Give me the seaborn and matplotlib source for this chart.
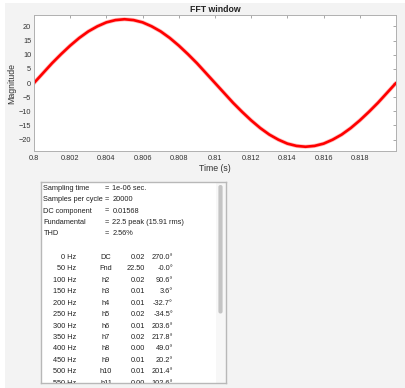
import numpy as np
import pandas as pd
import matplotlib
matplotlib.use("Agg")
from matplotlib import pyplot as plt
from matplotlib.patches import Rectangle, FancyBboxPatch
from matplotlib.ticker import FuncFormatter
import seaborn as sns

sns.set_style("white")
plt.rcParams['font.family'] = ['Liberation Sans', 'DejaVu Sans']

# waveform (one 50 Hz cycle, 0.5 ms spacing)
time_s = [0.8000, 0.8005, 0.8010, 0.8015, 0.8020, 0.8025, 0.8030, 0.8035,
          0.8040, 0.8045, 0.8050, 0.8055, 0.8060, 0.8065, 0.8070, 0.8075,
          0.8080, 0.8085, 0.8090, 0.8095, 0.8100, 0.8105, 0.8110, 0.8115,
          0.8120, 0.8125, 0.8130, 0.8135, 0.8140, 0.8145, 0.8150, 0.8155,
          0.8160, 0.8165, 0.8170, 0.8175, 0.8180, 0.8185, 0.8190, 0.8195,
          0.8200]
magnitude = [0.0, 3.5, 7.0, 10.2, 13.2, 15.9, 18.2, 20.0, 21.4, 22.2,
             22.5, 22.2, 21.4, 20.0, 18.2, 15.9, 13.2, 10.2, 7.0, 3.5,
             0.0, -3.5, -7.0, -10.2, -13.2, -15.9, -18.2, -20.0, -21.4, -22.2,
             -22.5, -22.2, -21.4, -20.0, -18.2, -15.9, -13.2, -10.2, -7.0, -3.5,
             0.0]
xticks = [0.8, 0.802, 0.804, 0.806, 0.808, 0.81, 0.812, 0.814, 0.816, 0.818]
yticks = [-20, -15, -10, -5, 0, 5, 10, 15, 20]

# summary text
info_names = ["Sampling time", "Samples per cycle", "DC component", "Fundamental", "THD"]
info_values = ["1e-06 sec.", "20000", "0.01568", "22.5 peak (15.91 rms)", "2.56%"]

# harmonics table
freqs = ["0 Hz", "50 Hz", "100 Hz", "150 Hz", "200 Hz", "250 Hz", "300 Hz",
         "350 Hz", "400 Hz", "450 Hz", "500 Hz", "550 Hz"]
harm = ["DC", "Fnd", "h2", "h3", "h4", "h5", "h6", "h7", "h8", "h9", "h10", "h11"]
amps = [0.02, 22.50, 0.02, 0.01, 0.01, 0.02, 0.01, 0.02, 0.00, 0.01, 0.01, 0.00]
phases = [270.0, -0.0, 90.6, 3.6, -32.7, -34.5, 203.6, 217.8, 49.0, 20.2, 201.4, 102.6]

df = pd.DataFrame({"Time (s)": time_s, "Magnitude": magnitude})

W, H = 406, 388
fig = plt.figure(figsize=(W / 100, H / 100), dpi=100, facecolor="white")
fig.patches.append(Rectangle((5 / W, 0), 1, 1 - 3 / H, transform=fig.transFigure,
                             facecolor="#f3f3f3", edgecolor="none", zorder=-10))

ax = fig.add_axes([34 / W, 1 - 151 / H, 362 / W, 136 / H])
ax.set_facecolor("white")
sns.lineplot(data=df, x="Time (s)", y="Magnitude", color="#ff3030", linewidth=3.0,
             alpha=0.3, ax=ax)
sns.lineplot(data=df, x="Time (s)", y="Magnitude", color="red", linewidth=1.9, ax=ax)
ax.set_xlim(0.8, 0.82)
ax.set_ylim(-24, 24)
ax.set_xticks(xticks)
ax.set_yticks(yticks)
ax.xaxis.set_major_formatter(FuncFormatter(lambda v, p: "%g" % round(v, 4)))
ax.tick_params(axis="both", direction="in", length=2.5, width=0.6, color="#999999",
               labelsize=5.3, labelcolor="#333333", top=True, right=True)
ax.tick_params(axis="y", pad=2)
ax.tick_params(axis="x", pad=3)
for s in ax.spines.values():
    s.set_visible(True)
    s.set_color("#b0b0b0")
    s.set_linewidth(0.7)
ax.set_xlabel("Time (s)", fontsize=6.3, color="#333333", labelpad=1.5)
ax.set_ylabel("Magnitude", fontsize=6.3, color="#333333", labelpad=2)
ax.set_title("FFT window", fontsize=6.3, fontweight="bold", color="#222222", pad=2)

# text panel, coordinates in pixels inside the box
pw, ph = 185, 201
pan = fig.add_axes([41 / W, 1 - 383 / H, pw / W, ph / H])
pan.set_facecolor("white")
pan.set_xlim(0, pw)
pan.set_ylim(ph, 0)
pan.set_xticks([])
pan.set_yticks([])
for s in pan.spines.values():
    s.set_visible(True)
    s.set_color("#b8b8b8")
    s.set_linewidth(1.0)

fs = 5.3
tc = "#222222"


def put(x, y, s, ha):
    t = pan.text(x, y, s, fontsize=fs, color=tc, va="center", ha=ha, clip_on=True)
    t.set_clip_path(pan.patch)


for i, (n, v) in enumerate(zip(info_names, info_values)):
    y = 6.4 + i * 11.35
    put(2.5, y, n, "left")
    put(66, y, "=", "center")
    put(71.5, y, v, "left")

for i in range(len(freqs)):
    y = 75.6 + i * 11.4
    put(35, y, freqs[i], "right")
    put(65, y, harm[i], "center")
    put(104, y, "%.2f" % amps[i], "right")
    put(132, y, "%.1f°" % phases[i], "right")

# scrollbar
pan.add_patch(Rectangle((175, 0), 10, ph, facecolor="#f7f7f7", edgecolor="none"))
pan.add_patch(FancyBboxPatch((177.4, 3), 4.2, 128.5, boxstyle="round,pad=0,rounding_size=2",
                             facecolor="#c4c4c4", edgecolor="none"))

fig.savefig("out.png", dpi=100, facecolor=fig.get_facecolor())
